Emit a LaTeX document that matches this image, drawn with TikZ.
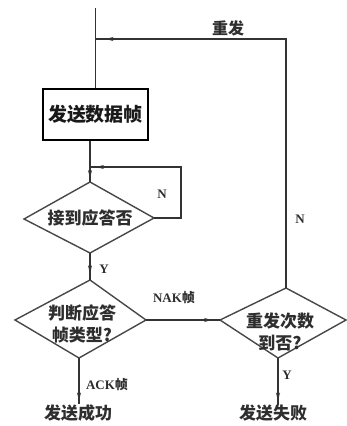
\documentclass[tikz,border=0pt]{standalone}
\usepackage{fontspec}
\newfontfamily\cjk{Noto Sans CJK SC}
\newfontfamily\latf{Liberation Serif}
\usetikzlibrary{arrows.meta,decorations.markings}
\begin{document}
\begin{tikzpicture}[x=1pt,y=-1pt,
  ln/.style={draw=black!80, line width=1.2pt},
  dia/.style={draw=black!72, line width=1.4pt, line join=miter},
  arr/.style={postaction={decorate}, decoration={markings, mark=at position #1 with {\arrow{Stealth[length=8pt,width=4pt]}}}},
  cj/.style={font=\cjk\bfseries\fontsize{17}{22}\selectfont, text=black!82, inner sep=0pt},
  lat/.style={font=\latf\bfseries\fontsize{13}{15}\selectfont, text=black!82, inner sep=0pt},
]
\useasboundingbox (0,0) rectangle (347,426);

% process box
\node[draw=black, line width=2.2pt, minimum width=105pt, minimum height=51pt, inner sep=0pt,
      font=\cjk\bfseries\fontsize{19}{22}\selectfont, text=black!90] (send) at (95.5,114.5) {发送数据帧};

% diamond 1
\coordinate (d1t) at (90,182);
\coordinate (d1r) at (154,218);
\coordinate (d1b) at (90,253);
\coordinate (d1l) at (24,219);
\draw[dia] (d1t) -- (d1r) -- (d1b) -- (d1l) -- cycle;
\node[cj] (t1) at (90,218) {接到应答否};

% diamond 2
\coordinate (d2t) at (90,280);
\coordinate (d2r) at (146,320);
\coordinate (d2b) at (79,358);
\coordinate (d2l) at (15,320);
\draw[dia] (d2t) -- (d2r) -- (d2b) -- (d2l) -- cycle;
\node[cj, align=center] (t2) at (82,324) {判断应答\\帧类型?};

% diamond 3
\coordinate (d3t) at (286,288);
\coordinate (d3r) at (346,320);
\coordinate (d3b) at (278,358);
\coordinate (d3l) at (220,320);
\draw[dia] (d3t) -- (d3r) -- (d3b) -- (d3l) -- cycle;
\node[cj, align=center] (t3) at (280,332) {重发次数\\到否?};

% end texts
\node[cj] (succ) at (78,413) {发送成功};
\node[cj] (fail) at (273,413) {发送失败};

% helper coordinates
\coordinate (start) at (95.5,8);
\coordinate (fbc) at (286,39);
\coordinate (join) at (95.5,39);
\coordinate (lp1) at (181,218);
\coordinate (lp2) at (181,167);
\coordinate (jn) at (90,167);

% connectors
\draw[ln] (start) -- (send.north);
\draw[ln, arr=-10pt] (d3t) -- (fbc) -- (join);
\draw[ln] (send.south -| d1t) -- (d1t);
\draw[ln, arr=-6pt] (d1r) -- (lp1) -- (lp2) -- (jn);
\draw[ln, arr=-4pt] (jn) -- (d1t);
\draw[ln, arr=0.75] (d1b) -- (d2t);
\draw[ln, arr=-8pt] (d2r) -- (d3l);
\draw[ln, arr=-4pt] (d2b) -- (d2b |- succ.north);
\draw[ln, arr=-4pt] (d3b) -- (d3b |- fail.north);

% labels
\node[cj, font=\cjk\bfseries\fontsize{16}{18}\selectfont] (lre) at (228,28) {重发};
\node[lat] (ln1) at (162,194) {N};
\node[lat] (ln2) at (300,219) {N};
\node[lat] (ly1) at (104,269) {Y};
\node[lat] (ly2) at (287,375) {Y};
\node[lat] (lnak) at (174,298) {NAK{\cjk 帧}};
\node[lat] (lack) at (107,385) {ACK{\cjk 帧}};
\end{tikzpicture}
\end{document}
